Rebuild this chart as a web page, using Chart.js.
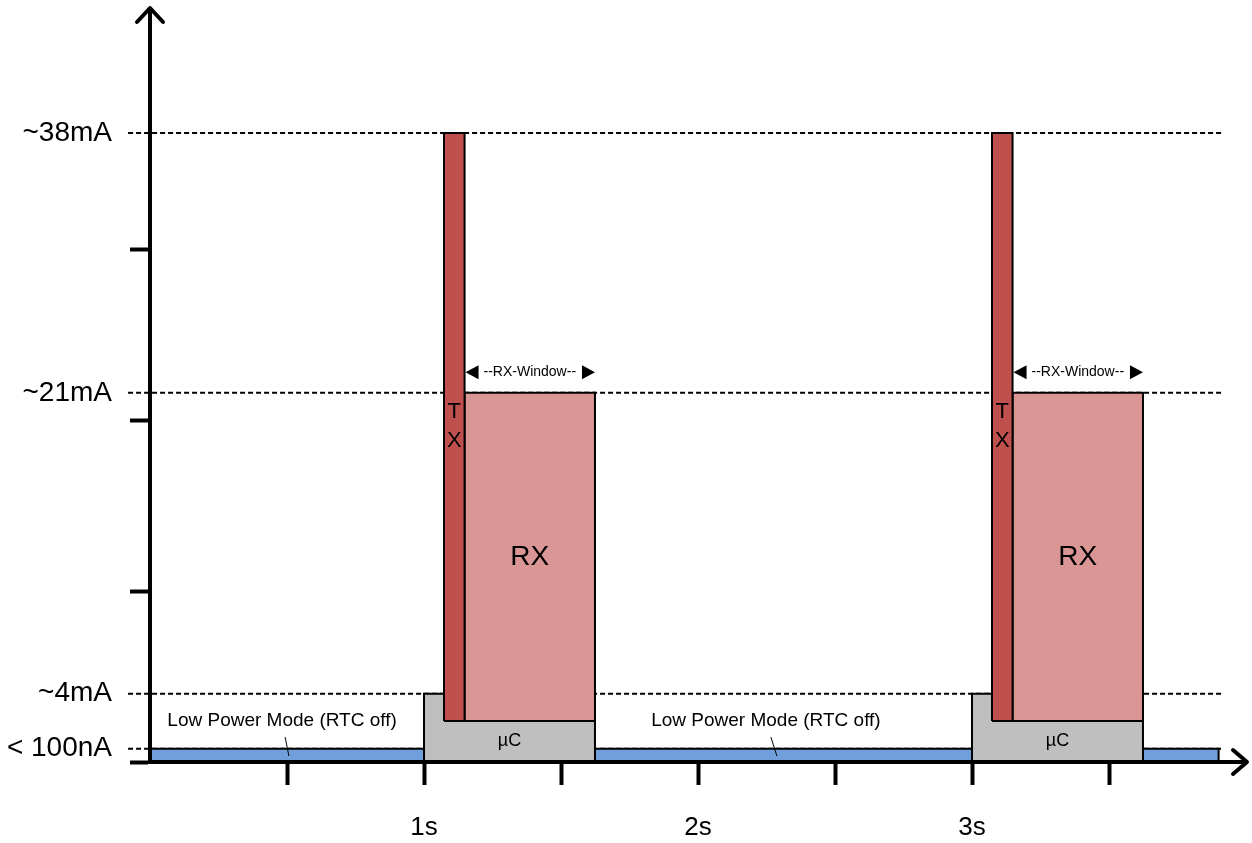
<!DOCTYPE html>
<html>
<head>
<meta charset="utf-8">
<title>Current profile</title>
<script src="https://cdn.jsdelivr.net/npm/chart.js@4.4.1/dist/chart.umd.min.js"></script>
<style>
html, body { margin: 0; padding: 0; background: #fff; }
.chart_wrap { width: 1252px; height: 843px; }
</style>
</head>
<body>
<div class="chart_wrap"><canvas id="currentChart"></canvas></div>
<script>
/*
 * 데이터 (x: s, y: mA - schematic scale of the drawing)
 */
// current levels on the y axis
const levelLabels = ['~38mA', '~21mA', '~4mA', '< 100nA'];
const levelValues = [36.8, 21.6, 4.0, 0.78];
const levelFrom = -0.08;
const levelTo = 3.91;
const plainTicksY = [0, 10, 20, 30];

// time axis
const timeTicks = [0, 0.5, 1, 1.5, 2, 2.5, 3, 3.5];
const timeLabels = ['', '', '1s', '', '2s', '', '3s', ''];

// low power mode periods
const sleepStart = [0, 1.624, 3.624];
const sleepEnd = [1.0, 3.0, 3.9];
const sleepLevel = 0.78;

// µC awake
const mcuStart = [1.0, 3.0];
const mcuEnd = [1.624, 3.624];
const mcuLevel = 4.0;

// radio TX / RX
const radioBase = 2.4;
const txStart = [1.073, 3.073];
const txEnd = [1.148, 3.148];
const txLevel = 36.8;
const rxStart = [1.148, 3.148];
const rxEnd = [1.624, 3.624];
const rxLevel = 21.6;

// text notes
const sleepNote = 'Low Power Mode (RTC off)';
const sleepNoteX = [0.482, 2.248];
const sleepNoteY = 2.4;
const sleepLeaderX = [[0.493, 0.507], [2.266, 2.288]];
const sleepLeaderY = [1.46, 0.35];
const rxNoteY = 12.0;
const txLetterY = [20.5, 18.8];
const mcuNoteY = 1.2;
const windowY = 22.8;

const FONT = 'Arial, "Liberation Sans", sans-serif';
const colSleep = '#709FDB';
const colMcu = '#BFBFBF';
const colTx = '#C0504D';
const colRx = '#D99694';

Chart.defaults.font.family = FONT;
Chart.defaults.color = '#000';

// closed rectangle path (fill: 'shape')
const rectPoints = (x0, x1, y0, y1) => [
	{ x: x0, y: y0 }, { x: x0, y: y1 }, { x: x1, y: y1 }, { x: x1, y: y0 }, { x: x0, y: y0 }
];
const blockSet = (x0, x1, y0, y1, color, order) => ({
	data: rectPoints(x0, x1, y0, y1),
	backgroundColor: color,
	borderColor: '#000',
	borderWidth: 2,
	borderJoinStyle: 'miter',
	fill: 'shape',
	pointRadius: 0,
	order: order
});

const datasets = [];
levelValues.forEach(v => {
	datasets.push({
		data: [{ x: levelFrom, y: v }, { x: levelTo, y: v }],
		borderColor: '#000',
		borderWidth: 2,
		borderDash: [5, 3],
		fill: false,
		pointRadius: 0,
		clip: false,
		order: 10
	});
});
sleepStart.forEach((s, i) => datasets.push(blockSet(s, sleepEnd[i], 0, sleepLevel, colSleep, 3)));
mcuStart.forEach((s, i) => datasets.push(blockSet(s, mcuEnd[i], 0, mcuLevel, colMcu, 2)));
txStart.forEach((s, i) => datasets.push(blockSet(s, txEnd[i], radioBase, txLevel, colTx, 1)));
rxStart.forEach((s, i) => datasets.push(blockSet(s, rxEnd[i], radioBase, rxLevel, colRx, 1)));

/*
 * 텍스트, 화살표
 */
const notesPlugin = {
	id: 'notes',
	afterDraw(chart) {
		const { ctx, chartArea: area } = chart;
		const x = chart.scales.x;
		const y = chart.scales.y;
		const px = v => x.getPixelForValue(v);
		const py = v => y.getPixelForValue(v);

		ctx.save();
		ctx.fillStyle = '#000';
		ctx.strokeStyle = '#000';
		ctx.textAlign = 'center';
		ctx.textBaseline = 'middle';

		// axis arrow heads
		ctx.lineWidth = 4;
		ctx.lineCap = 'round';
		ctx.lineJoin = 'round';
		ctx.beginPath();
		ctx.moveTo(area.left - 13, area.top + 12);
		ctx.lineTo(area.left, area.top - 2);
		ctx.lineTo(area.left + 13, area.top + 12);
		ctx.moveTo(area.right - 13, area.bottom - 12);
		ctx.lineTo(area.right + 1, area.bottom);
		ctx.lineTo(area.right - 13, area.bottom + 12);
		ctx.stroke();

		// low power mode notes + leader
		ctx.font = '19px ' + FONT;
		ctx.lineWidth = 1;
		ctx.lineCap = 'butt';
		sleepNoteX.forEach((v, i) => {
			ctx.fillText(sleepNote, px(v), py(sleepNoteY));
			ctx.beginPath();
			ctx.moveTo(px(sleepLeaderX[i][0]), py(sleepLeaderY[0]));
			ctx.lineTo(px(sleepLeaderX[i][1]), py(sleepLeaderY[1]));
			ctx.stroke();
		});

		// µC
		ctx.font = '18px ' + FONT;
		mcuStart.forEach((s, i) => {
			ctx.fillText('µC', px((s + mcuEnd[i]) / 2), py(mcuNoteY));
		});

		// TX letters
		ctx.font = '22px ' + FONT;
		txStart.forEach((s, i) => {
			const cx = px((s + txEnd[i]) / 2);
			ctx.fillText('T', cx, py(txLetterY[0]));
			ctx.fillText('X', cx, py(txLetterY[1]));
		});

		// RX + RX window
		rxStart.forEach((s, i) => {
			const x0 = px(s);
			const x1 = px(rxEnd[i]);
			const wy = py(windowY);
			ctx.font = '28px ' + FONT;
			ctx.fillText('RX', (x0 + x1) / 2, py(rxNoteY));

			ctx.font = '14px ' + FONT;
			ctx.fillText('--RX-Window--', (x0 + x1) / 2, wy);
			ctx.beginPath();
			ctx.moveTo(x0 + 1, wy);
			ctx.lineTo(x0 + 14, wy - 7);
			ctx.lineTo(x0 + 14, wy + 7);
			ctx.closePath();
			ctx.moveTo(x1, wy);
			ctx.lineTo(x1 - 13, wy - 7);
			ctx.lineTo(x1 - 13, wy + 7);
			ctx.closePath();
			ctx.fill();
		});

		ctx.restore();
	}
};

new Chart(document.getElementById('currentChart'), {
	type: 'line',
	data: { datasets: datasets },
	options: {
		responsive: true,
		maintainAspectRatio: false,
		animation: false,
		events: [],
		layout: { padding: { top: 10, right: 6, left: 0, bottom: 0 } },
		plugins: {
			legend: { display: false },
			tooltip: { enabled: false }
		},
		scales: {
			x: {
				type: 'linear',
				min: 0,
				max: 4,
				afterFit: scale => {
					scale.height = 81;
					scale.paddingLeft = 0;
					scale.paddingRight = 0;
				},
				afterBuildTicks: scale => { scale.ticks = timeTicks.map(v => ({ value: v })); },
				border: { display: true, color: '#000', width: 4, z: 1 },
				grid: {
					drawOnChartArea: false,
					drawTicks: true,
					tickLength: 23,
					tickWidth: 4,
					tickColor: ctx => (ctx.tick && ctx.tick.value === 0 ? 'rgba(0,0,0,0)' : '#000')
				},
				ticks: {
					autoSkip: false,
					maxRotation: 0,
					padding: 27,
					font: { size: 26 },
					callback: (value, index) => timeLabels[index]
				}
			},
			y: {
				type: 'linear',
				min: 0,
				max: 44,
				afterFit: scale => {
					scale.width = 150;
					scale.paddingTop = 0;
					scale.paddingBottom = 0;
				},
				afterBuildTicks: scale => {
					scale.ticks = plainTicksY.concat(levelValues)
						.sort((a, b) => a - b)
						.map(v => ({ value: v }));
				},
				border: { display: true, color: '#000', width: 4, z: 1 },
				grid: {
					drawOnChartArea: false,
					drawTicks: true,
					tickLength: 20,
					tickWidth: 4,
					tickColor: ctx => (ctx.tick && levelValues.indexOf(ctx.tick.value) >= 0 ? 'rgba(0,0,0,0)' : '#000')
				},
				ticks: {
					autoSkip: false,
					padding: 18,
					font: { size: 28 },
					callback: value => {
						const i = levelValues.indexOf(value);
						return i >= 0 ? levelLabels[i] : '';
					}
				}
			}
		}
	},
	plugins: [notesPlugin]
});
</script>
</body>
</html>
